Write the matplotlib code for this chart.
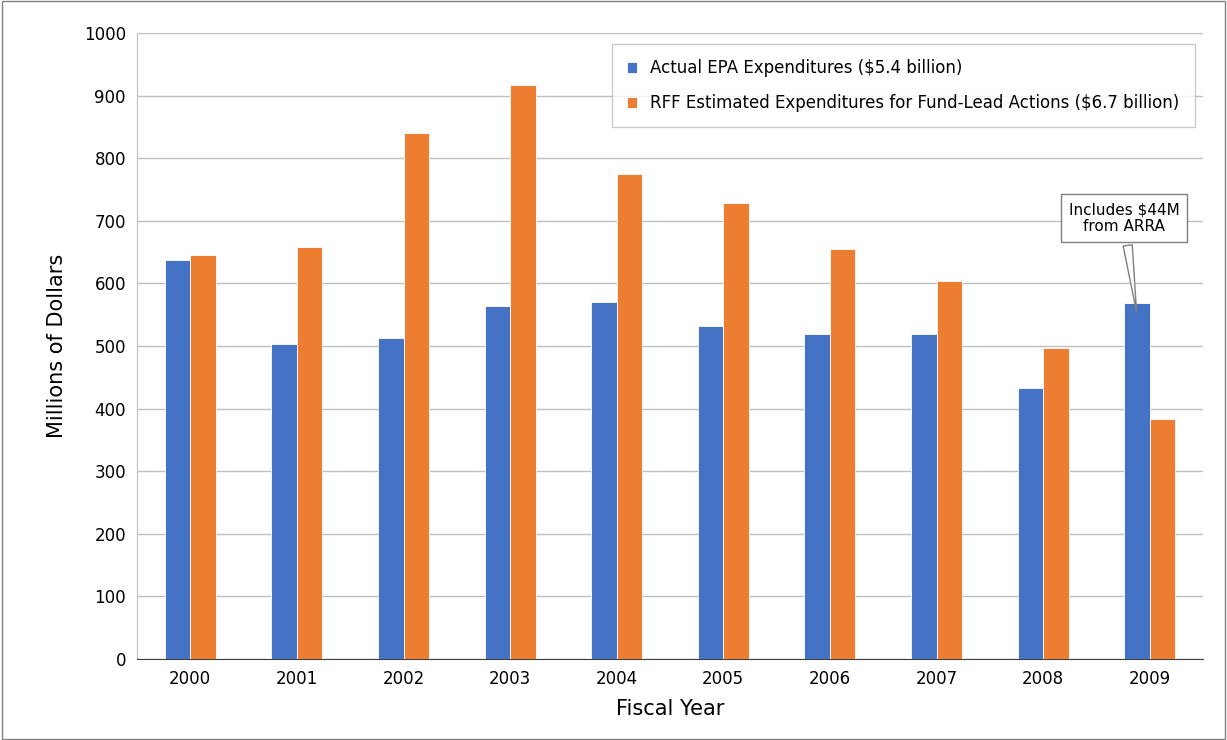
import matplotlib
matplotlib.use("Agg")
import matplotlib.pyplot as plt
import numpy as np
from matplotlib.patches import Rectangle

years = ["2000","2001","2002","2003","2004","2005","2006","2007","2008","2009"]
actual = [637, 503, 513, 564, 570, 532, 519, 519, 433, 569]
rff = [645, 658, 840, 917, 775, 728, 655, 604, 497, 383]

fig = plt.figure(figsize=(12.27, 7.40), dpi=100)
ax = fig.add_axes([137/1227, 1-659/740, (1203-137)/1227, (659-33)/740])
x = np.arange(len(years))
w = 0.24
ax.bar(x - w/2, actual, w, color="#4472C4", edgecolor="white", lw=0.6, label="Actual EPA Expenditures ($5.4 billion)", zorder=3)
ax.bar(x + w/2, rff, w, color="#ED7D31", edgecolor="white", lw=0.6, label="RFF Estimated Expenditures for Fund-Lead Actions ($6.7 billion)", zorder=3)
ax.set_xlim(-0.5, len(years)-0.5)
ax.set_ylim(0, 1000)
ax.set_yticks(range(0, 1001, 100))
ax.set_xticks(x)
ax.set_xticklabels(years)
ax.tick_params(labelsize=12, length=0, pad=8)
ax.yaxis.grid(True, color="#BFBFBF", lw=1, zorder=0)
for s in ["top", "right"]:
    ax.spines[s].set_visible(False)
ax.spines["left"].set_color("#BFBFBF")
ax.spines["bottom"].set_color("#404040")
ax.set_ylabel("Millions of Dollars", fontsize=15, labelpad=12)
ax.set_xlabel("Fiscal Year", fontsize=15, labelpad=8)
leg = ax.legend(loc="upper right", bbox_to_anchor=(1.0, 0.995), fontsize=12, frameon=True,
                fancybox=False, edgecolor="#BFBFBF", handlelength=0.6, handleheight=0.6,
                borderpad=0.9, labelspacing=1.0)
ax.annotate("Includes $44M\nfrom ARRA", xy=(9 - w/2, 550), xytext=(8.76, 704),
            ha="center", va="center", fontsize=11,
            bbox=dict(boxstyle="square,pad=0.5", fc="white", ec="#808080"),
            arrowprops=dict(arrowstyle="wedge,tail_width=0.6", fc="white", ec="#808080"), zorder=5)
fig.patches.append(Rectangle((0.002, 0.002), 0.996, 0.996, transform=fig.transFigure,
                             fill=False, ec="#808080", lw=1))
fig.savefig("out.png", dpi=100)
